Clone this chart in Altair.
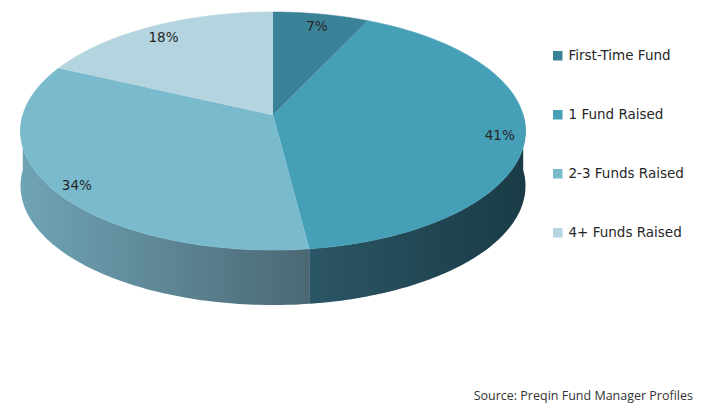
import altair as alt
import pandas as pd

categories = ["First-Time Fund", "1 Fund Raised", "2-3 Funds Raised", "4+ Funds Raised"]
shares = [7, 41, 34, 18]
labels = ["7%", "41%", "34%", "18%"]
colors = ["#3a8298", "#459fb7", "#7abacd", "#b4d4df"]
source_note = ["Source: Preqin Fund Manager Profiles"]

df = pd.DataFrame({"cat": categories, "share": shares, "label": labels,
                   "idx": list(range(len(categories)))})

# geometry of the perspective pie (pixels in page coordinates)
CX, CY, RX, RY, A, DEPTH = 273, 115, 250.2, 116.85, 0.1345, 55
N = 90
W, H = 693, 397
X0, Y0 = 8, 8

xs = alt.X("px:Q", scale=alt.Scale(domain=[X0, X0 + W], nice=False, zero=False), axis=None)
ys = alt.Y("py:Q", scale=alt.Scale(domain=[Y0, Y0 + H], nice=False, zero=False, reverse=True), axis=None)

color_scale = alt.Scale(domain=categories, range=colors)

PX = f"{CX} + {RX}*datum.r*sin(datum.th)/(1+{A}*datum.r*cos(datum.th))"
PY = f"{CY} - {RY}*datum.r*cos(datum.th)/(1+{A}*datum.r*cos(datum.th)) + datum.dz"

base = alt.Chart(df).transform_window(
    cum="sum(share)", sort=[alt.SortField("idx")], frame=[None, 0]
).transform_joinaggregate(total="sum(share)").transform_calculate(
    t2="2*PI*datum.cum/datum.total"
).transform_calculate(
    t1="2*PI*(datum.cum-datum.share)/datum.total"
)

# top faces
top = base.transform_calculate(k=f"sequence(0, {N + 2})").transform_flatten(["k"]).transform_calculate(
    th=f"datum.t1 + (datum.t2-datum.t1)*(datum.k-1)/{N}"
).transform_calculate(
    r="datum.k == 0 ? 0 : 1"
).transform_calculate(dz="0").transform_calculate(px=PX).transform_calculate(py=PY).mark_line(
    strokeWidth=0.6, strokeJoin="round"
).encode(
    x=xs, y=ys, order="k:Q", detail="cat:N",
    fill=alt.Fill("cat:N", scale=color_scale, sort=categories, legend=alt.Legend(
        title=None, orient="none", legendX=543, legendY=41, symbolType="square",
        symbolSize=90, symbolStrokeWidth=0, labelFontSize=13.5, labelFont="DejaVu Sans",
        labelColor="#262626", rowPadding=44, padding=0, labelOffset=4, labelLimit=300)),
    stroke=alt.Stroke("cat:N", scale=color_scale, legend=None),
)


def side(catname, c_left, c_right):
    return base.transform_filter(alt.datum.cat == catname).transform_calculate(
        s1="max(datum.t1, PI/2)"
    ).transform_calculate(
        s2="min(datum.t2, 3*PI/2)"
    ).transform_calculate(k=f"sequence(0, {2 * N + 2})").transform_flatten(["k"]).transform_calculate(
        j=f"datum.k <= {N} ? datum.k : {2 * N + 1} - datum.k"
    ).transform_calculate(
        dz=f"datum.k <= {N} ? 0 : {DEPTH}"
    ).transform_calculate(
        th=f"datum.s1 + (datum.s2-datum.s1)*datum.j/{N}"
    ).transform_calculate(r="1").transform_calculate(px=PX).transform_calculate(py=PY).mark_line(
        fill=alt.Gradient(gradient="linear", x1=0, x2=1, y1=0, y2=0,
                          stops=[alt.GradientStop(color=c_left, offset=0),
                                 alt.GradientStop(color=c_right, offset=1)]),
        strokeOpacity=0,
    ).encode(x=xs, y=ys, order="k:Q")


side_a = side(categories[1], "#2b5666", "#1a3b46")
side_b = side(categories[2], "#6fa4b5", "#4c6875")

lab = base.transform_calculate(th="(datum.t1+datum.t2)/2").transform_calculate(
    r="0.9").transform_calculate(dz="0").transform_calculate(px=PX).transform_calculate(py=PY).mark_text(
    font="DejaVu Sans", fontSize=13.5, color="#262626", baseline="middle", align="center", dy=4
).encode(x=xs, y=ys, text="label:N")

src = alt.Chart(pd.DataFrame({"t": source_note})).mark_text(
    font="Open Sans", fontSize=12.5, color="#333333", align="right", baseline="alphabetic"
).encode(x=alt.value(685), y=alt.value(392), text="t:N")

chart = alt.layer(side_a, side_b, top, lab, src).properties(
    width=W, height=H, padding=0, autosize="none"
).configure_view(stroke=None)

chart.save("out.html", embed_options={"renderer": "svg", "actions": False})
